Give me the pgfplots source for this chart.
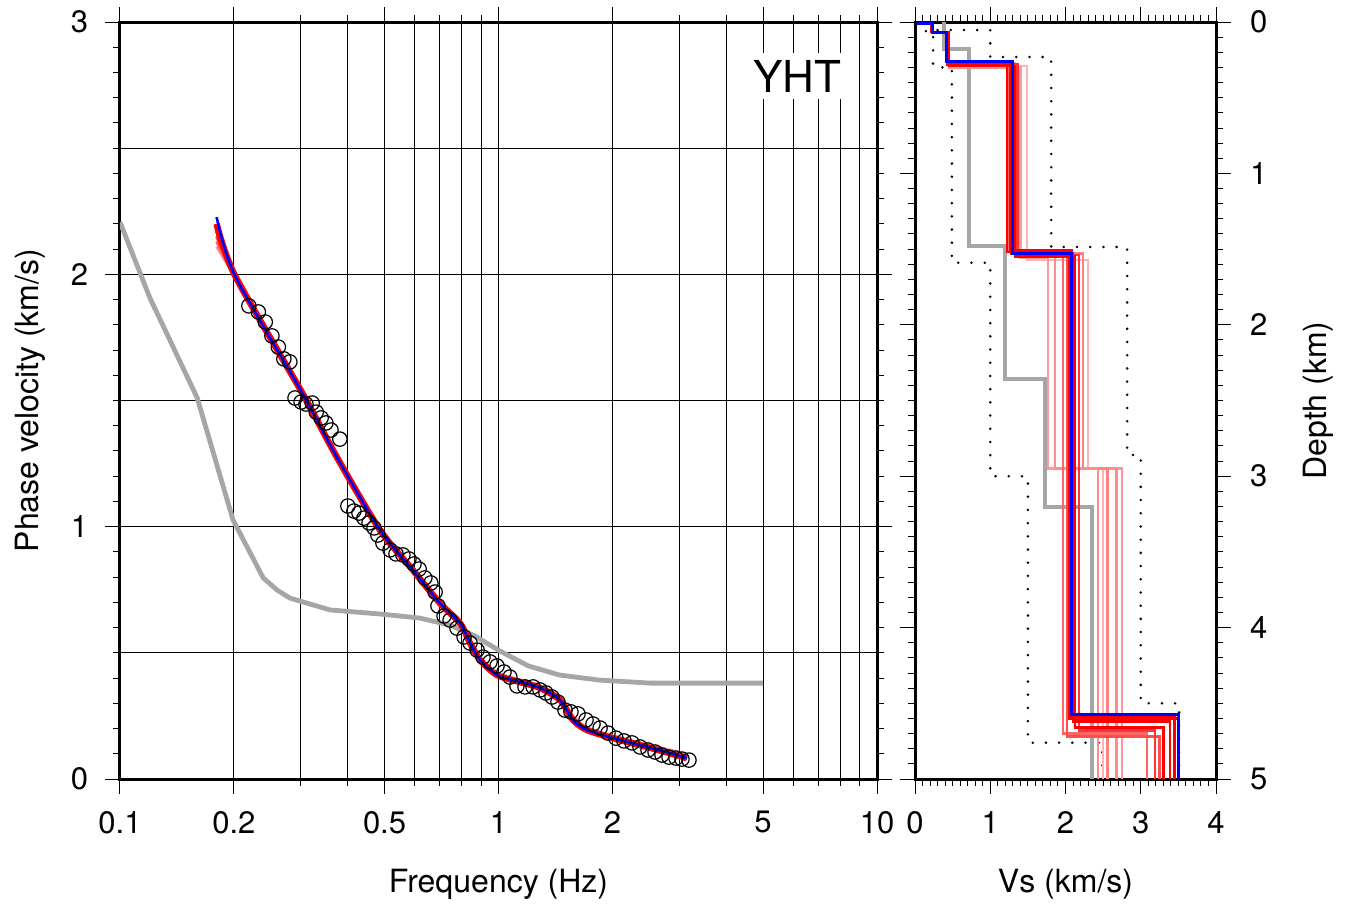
\documentclass[border=0pt]{standalone}
\usepackage{fontspec}
\setmainfont{TeX Gyre Heros}
\usepackage{pgfplots}
\pgfplotsset{compat=1.18}

% observed phase velocities (Hz, km/s)
\pgfplotstableread{
f v
0.219 1.875
0.232 1.851
0.242 1.811
0.252 1.756
0.262 1.712
0.271 1.665
0.281 1.653
0.290 1.510
0.301 1.494
0.310 1.486
0.322 1.490
0.330 1.454
0.340 1.431
0.350 1.411
0.361 1.383
0.381 1.347
0.400 1.082
0.415 1.062
0.428 1.054
0.441 1.034
0.455 1.015
0.469 0.995
0.480 0.967
0.495 0.935
0.517 0.908
0.536 0.892
0.559 0.888
0.580 0.872
0.598 0.852
0.617 0.832
0.639 0.797
0.663 0.777
0.680 0.741
0.692 0.686
0.718 0.646
0.745 0.630
0.777 0.598
0.811 0.563
0.841 0.539
0.878 0.511
0.910 0.483
0.950 0.464
0.991 0.448
1.034 0.424
1.072 0.404
1.119 0.369
1.175 0.365
1.234 0.365
1.287 0.353
1.335 0.341
1.385 0.325
1.436 0.305
1.499 0.273
1.554 0.266
1.622 0.258
1.703 0.234
1.777 0.218
1.855 0.202
1.947 0.182
2.043 0.162
2.146 0.151
2.253 0.143
2.365 0.127
2.483 0.115
2.592 0.107
2.704 0.095
2.822 0.087
2.944 0.083
3.053 0.079
3.186 0.075
}\obsdata

\pgfplotsset{
  common/.style={
    scale only axis,
    tick align=outside,
    major tick length=7.5pt,
    minor tick length=3.5pt,
    tick style={black, line width=0.5pt},
    axis line style={line width=1.5pt},
    ticklabel style={font=\fontsize{15.5}{15.5}\selectfont},
    xticklabel style={yshift=-5pt},
  },
  disp/.style={smooth, tension=0.45},
  prof/.style={line width=1.2pt, line join=miter},
  bound/.style={black, line width=1.4pt, line cap=round, dash pattern=on 0pt off 6.6pt},
}

\begin{document}
\begin{tikzpicture}
\path[use as bounding box] (0pt,0pt) rectangle (674pt,-452pt);

% ---------------- dispersion curves ----------------
\begin{axis}[
  common,
  at={(60pt,-389.5pt)}, anchor=south west,
  width=378.5pt, height=378.5pt,
  xmode=log, xmin=0.1, xmax=10, ymin=0, ymax=3,
  xtick={0.1,0.2,0.5,1,2,5,10},
  xticklabels={0.1,0.2,0.5,1,2,5,10},
  minor xtick={0.3,0.4,0.6,0.7,0.8,0.9,3,4,6,7,8,9},
  ytick={0,1,2,3}, yticklabels={0,1,2,3},
  minor y tick num=9,
  extra y ticks={0.5,1.5,2.5}, extra y tick labels={},
  extra y tick style={major tick length=3.5pt},
  xmajorgrids, xminorgrids, ymajorgrids,
  major grid style={black, line width=0.5pt},
  minor grid style={black, line width=0.5pt},
  yticklabel style={xshift=-5pt},
]
% reference model
\addplot[gray!70, line width=2.4pt, line join=round] coordinates {
(0.100,2.207)(0.120,1.906)(0.160,1.510)(0.199,1.026)(0.239,0.797)
(0.260,0.749)(0.281,0.717)(0.359,0.670)(0.486,0.654)(0.618,0.638)
(0.745,0.610)(0.866,0.567)(1.009,0.507)(1.20,0.448)(1.45,0.412)
(1.85,0.392)(2.52,0.380)(5.00,0.380)};

% observations
\addplot[only marks, mark=o, mark size=3.6pt,
  mark options={black, line width=0.6pt}] table[x=f, y=v] {\obsdata};

% trial models
\addplot[disp, red!35, line width=2.0pt] coordinates {
(0.180,2.190)(0.201,1.999)(0.303,1.534)(0.374,1.280)(0.486,0.992)
(0.594,0.833)(0.700,0.702)(0.791,0.624)(0.841,0.547)(0.894,0.480)
(0.991,0.419)(1.140,0.391)(1.287,0.368)(1.454,0.322)(1.573,0.245)
(1.713,0.202)(2.007,0.169)(2.468,0.135)(3.148,0.097)};
\addplot[disp, red!45, line width=1.4pt] coordinates {
(0.180,2.110)(0.201,1.990)(0.303,1.528)(0.374,1.274)(0.486,0.985)
(0.594,0.826)(0.700,0.695)(0.791,0.616)(0.841,0.541)(0.894,0.474)
(0.991,0.414)(1.140,0.386)(1.287,0.364)(1.454,0.318)(1.573,0.240)
(1.713,0.198)(2.007,0.165)(2.468,0.130)(3.148,0.090)};
\addplot[disp, red!60, line width=1.4pt] coordinates {
(0.180,2.130)(0.201,1.993)(0.303,1.531)(0.374,1.277)(0.486,0.989)
(0.594,0.830)(0.700,0.699)(0.791,0.620)(0.841,0.543)(0.894,0.476)
(0.991,0.416)(1.140,0.388)(1.287,0.364)(1.454,0.316)(1.573,0.238)
(1.713,0.197)(2.007,0.164)(2.468,0.128)(3.148,0.086)};
\addplot[disp, red!75, line width=1.4pt] coordinates {
(0.180,2.150)(0.201,1.994)(0.303,1.527)(0.374,1.273)(0.486,0.984)
(0.594,0.825)(0.700,0.694)(0.791,0.615)(0.841,0.536)(0.894,0.469)
(0.991,0.409)(1.140,0.381)(1.287,0.358)(1.454,0.309)(1.573,0.230)
(1.713,0.191)(2.007,0.159)(2.468,0.124)(3.148,0.080)};
\addplot[disp, red, line width=1.6pt] coordinates {
(0.180,2.170)(0.201,1.995)(0.303,1.529)(0.374,1.275)(0.486,0.986)
(0.594,0.827)(0.700,0.696)(0.791,0.617)(0.841,0.538)(0.894,0.471)
(0.991,0.411)(1.140,0.383)(1.287,0.360)(1.454,0.312)(1.573,0.233)
(1.713,0.193)(2.007,0.161)(2.468,0.126)(3.148,0.082)};
\addplot[disp, red, line width=3.2pt] coordinates {
(0.180,2.200)(0.201,1.997)(0.303,1.530)(0.374,1.276)(0.486,0.987)
(0.594,0.828)(0.700,0.697)(0.791,0.618)(0.841,0.539)(0.894,0.472)
(0.991,0.412)(1.140,0.384)(1.287,0.361)(1.454,0.313)(1.573,0.234)
(1.713,0.194)(2.007,0.162)(2.468,0.127)(3.148,0.083)};

% best model
\addplot[disp, blue, line width=1.3pt] coordinates {
(0.180,2.227)(0.201,1.997)(0.303,1.530)(0.374,1.276)(0.486,0.987)
(0.594,0.828)(0.700,0.697)(0.791,0.618)(0.841,0.539)(0.894,0.472)
(0.991,0.412)(1.140,0.384)(1.287,0.361)(1.454,0.313)(1.573,0.234)
(1.713,0.194)(2.007,0.162)(2.468,0.127)(3.148,0.083)};

\node[fill=white, inner xsep=6pt, inner ysep=3.5pt,
  font=\fontsize{22}{22}\selectfont] at (axis cs:6.15,2.785) {YHT};
\end{axis}

% ---------------- velocity profiles ----------------
\begin{axis}[
  common,
  at={(457.5pt,-389.5pt)}, anchor=south west,
  width=150.5pt, height=378.5pt,
  xmin=0, xmax=4, ymin=0, ymax=5, y dir=reverse,
  xtick={0,1,2,3,4}, xticklabels={0,1,2,3,4}, minor x tick num=9,
  ytick={0,1,2,3,4,5}, yticklabels={0,1,2,3,4,5}, minor y tick num=9,
  yticklabel pos=right,
  yticklabel style={xshift=6pt},
]
% search bounds
\addplot[bound] coordinates {
(0.09,0.00)(0.09,0.06)(0.24,0.06)(0.24,0.30)(0.49,0.30)(0.49,1.59)
(1.00,1.59)(1.00,3.00)(1.50,3.00)(1.50,4.76)(2.49,4.76)(2.49,5.00)};
\addplot[bound] coordinates {
(0.30,0.053)(1.00,0.053)(1.00,0.231)(1.81,0.231)(1.81,1.486)
(2.82,1.486)(2.82,2.86)(3.00,2.86)(3.00,4.50)(3.51,4.50)(3.51,5.00)};

% initial model
\addplot[gray!70, line width=2.2pt, line join=miter] coordinates {
(0.385,0)(0.385,0.178)(0.718,0.178)(0.718,1.480)(1.196,1.480)
(1.196,2.358)(1.728,2.358)(1.728,3.203)(2.352,3.203)(2.352,5)};

% trial models
\addplot[prof, red!30] coordinates {
(0.23,0)(0.23,0.066)(0.44,0.066)(0.44,0.29)(1.49,0.29)(1.49,1.57)
(2.30,1.57)(2.30,2.95)(2.50,2.95)(2.50,5)};
\addplot[prof, red!40] coordinates {
(0.23,0)(0.23,0.066)(0.45,0.066)(0.45,0.30)(1.40,0.30)(1.40,1.56)
(1.77,1.56)(1.77,2.95)(2.75,2.95)(2.75,5)};
\addplot[prof, red!45] coordinates {
(0.22,0)(0.22,0.066)(0.44,0.066)(0.44,0.28)(1.36,0.28)(1.36,1.55)
(1.86,1.55)(1.86,2.95)(2.68,2.95)(2.68,5)};
\addplot[prof, red!50] coordinates {
(0.23,0)(0.23,0.066)(0.43,0.066)(0.43,0.28)(1.30,0.28)(1.30,1.53)
(2.23,1.53)(2.23,2.95)(2.56,2.95)(2.56,5)};
\addplot[prof, red!45] coordinates {
(0.23,0)(0.23,0.066)(0.43,0.066)(0.43,0.27)(1.33,0.27)(1.33,1.54)
(1.97,1.54)(1.97,2.95)(2.43,2.95)(2.43,5)};
\addplot[prof, red!60] coordinates {
(0.23,0)(0.23,0.066)(0.44,0.066)(0.44,0.27)(1.25,0.27)(1.25,1.52)
(1.97,1.52)(1.97,4.70)(3.08,4.70)(3.08,5)};
\addplot[prof, red!70] coordinates {
(0.23,0)(0.23,0.066)(0.44,0.066)(0.44,0.28)(1.30,0.28)(1.30,1.52)
(2.02,1.52)(2.02,4.72)(3.25,4.72)(3.25,5)};
\addplot[prof, red!80] coordinates {
(0.23,0)(0.23,0.066)(0.44,0.066)(0.44,0.28)(1.36,0.28)(1.36,1.54)
(2.18,1.54)(2.18,4.68)(3.19,4.68)(3.19,5)};
\addplot[prof, red] coordinates {
(0.24,0)(0.24,0.07)(0.45,0.07)(0.45,0.29)(1.33,0.29)(1.33,1.55)
(2.13,1.55)(2.13,4.66)(3.30,4.66)(3.30,5)};
\addplot[prof, red] coordinates {
(0.22,0)(0.22,0.066)(0.43,0.066)(0.43,0.28)(1.28,0.28)(1.28,1.53)
(2.10,1.53)(2.10,4.62)(3.39,4.62)(3.39,5)};
\addplot[prof, red] coordinates {
(0.23,0)(0.23,0.066)(0.44,0.066)(0.44,0.27)(1.22,0.27)(1.22,1.52)
(2.05,1.52)(2.05,4.60)(3.50,4.60)(3.50,5)};
\addplot[prof, red] coordinates {
(0.23,0)(0.23,0.066)(0.44,0.066)(0.44,0.26)(1.26,0.26)(1.26,1.51)
(2.08,1.51)(2.08,4.58)(3.45,4.58)(3.45,5)};

% best model
\addplot[blue, line width=1.5pt, line join=miter] coordinates {
(0.04,0)(0.04,0.013)(0.226,0.013)(0.226,0.066)(0.425,0.066)(0.425,0.264)
(1.302,0.264)(1.302,1.526)(2.073,1.526)(2.073,4.577)(3.495,4.577)(3.495,5)};
\end{axis}

\node[rotate=90, font=\fontsize{16}{16}\selectfont] at (15pt,-200.25pt) {Phase velocity (km/s)};
\node[font=\fontsize{16}{16}\selectfont] at (249.25pt,-442pt) {Frequency (Hz)};
\node[font=\fontsize{16}{16}\selectfont] at (532.75pt,-442pt) {Vs (km/s)};
\node[rotate=90, font=\fontsize{16}{16}\selectfont] at (659pt,-200.25pt) {Depth (km)};
\end{tikzpicture}
\end{document}
